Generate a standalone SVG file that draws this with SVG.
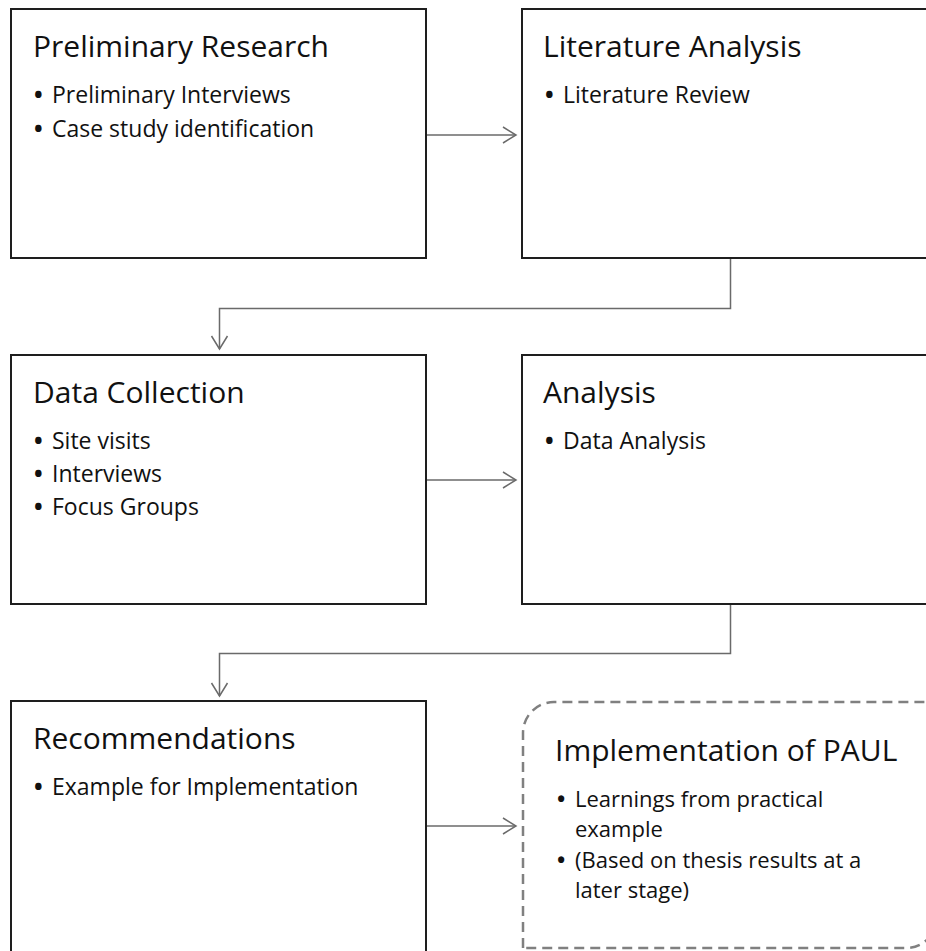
<svg xmlns="http://www.w3.org/2000/svg" width="926" height="951" viewBox="0 0 926 951">
<style>
.box{fill:#fff;stroke:#1e1e1e;stroke-width:2}
.dash{fill:#fff;stroke:#808080;stroke-width:2.5;stroke-dasharray:10 6}
.conn{fill:none;stroke:#6a6a6a;stroke-width:1.5}
.t{font-family:"Open Sans","Noto Sans","Liberation Sans",sans-serif;font-size:30px;fill:#111}
.b{font-family:"Open Sans","Noto Sans","Liberation Sans",sans-serif;font-size:23px;fill:#111}
.s{font-size:22px}
.d{font-weight:700}
</style>
<defs>
<marker id="arr" markerUnits="userSpaceOnUse" viewBox="-16 -10 18 20" markerWidth="18" markerHeight="20" refX="0" refY="0" orient="auto">
<path d="M-13,-8 L0,0 L-13,8" fill="none" stroke="#6a6a6a" stroke-width="1.5"/>
</marker>
</defs>
<rect width="926" height="951" fill="#fff"/>
<g id="connectors">
<path class="conn" d="M426,135 H516" marker-end="url(#arr)"/>
<path class="conn" d="M730.5,259 V308.5 H219.5 V349" marker-end="url(#arr)"/>
<path class="conn" d="M426,480 H516" marker-end="url(#arr)"/>
<path class="conn" d="M730.5,604 V653.5 H219.5 V696" marker-end="url(#arr)"/>
<path class="conn" d="M426,826 H516" marker-end="url(#arr)"/>
</g>
<g id="preliminary-research">
<rect class="box" x="11" y="9" width="415" height="249"/>
<text class="t" x="33" y="57">Preliminary Research</text>
<text class="b" y="103"><tspan class="d" x="34">•</tspan><tspan x="52">Preliminary Interviews</tspan></text>
<text class="b" y="137"><tspan class="d" x="34">•</tspan><tspan x="52">Case study identification</tspan></text>
</g>
<g id="literature-analysis">
<rect class="box" x="522" y="9" width="420" height="249"/>
<text class="t" x="543" y="57">Literature Analysis</text>
<text class="b" y="103"><tspan class="d" x="545">•</tspan><tspan x="563">Literature Review</tspan></text>
</g>
<g id="data-collection">
<rect class="box" x="11" y="355" width="415" height="249"/>
<text class="t" x="33" y="403">Data Collection</text>
<text class="b" y="449"><tspan class="d" x="34">•</tspan><tspan x="52">Site visits</tspan></text>
<text class="b" y="482"><tspan class="d" x="34">•</tspan><tspan x="52">Interviews</tspan></text>
<text class="b" y="515"><tspan class="d" x="34">•</tspan><tspan x="52">Focus Groups</tspan></text>
</g>
<g id="analysis">
<rect class="box" x="522" y="355" width="420" height="249"/>
<text class="t" x="543" y="403">Analysis</text>
<text class="b" y="449"><tspan class="d" x="545">•</tspan><tspan x="563">Data Analysis</tspan></text>
</g>
<g id="recommendations">
<rect class="box" x="11" y="701" width="415" height="270"/>
<text class="t" x="33" y="749">Recommendations</text>
<text class="b" y="795"><tspan class="d" x="34">•</tspan><tspan x="52">Example for Implementation</tspan></text>
</g>
<g id="implementation-of-paul">
<path class="dash" d="M523,948 V733 A31,31 0 0 1 554,702 H937 V917 A31,31 0 0 1 906,948 Z"/>
<text class="t" x="555" y="761">Implementation of PAUL</text>
<text class="b s" y="807"><tspan class="d" x="557">•</tspan><tspan x="575">Learnings from practical</tspan><tspan x="575" y="837">example</tspan></text>
<text class="b s" y="868"><tspan class="d" x="557">•</tspan><tspan x="575">(Based on thesis results at a</tspan><tspan x="575" y="898">later stage)</tspan></text>
</g>
</svg>
